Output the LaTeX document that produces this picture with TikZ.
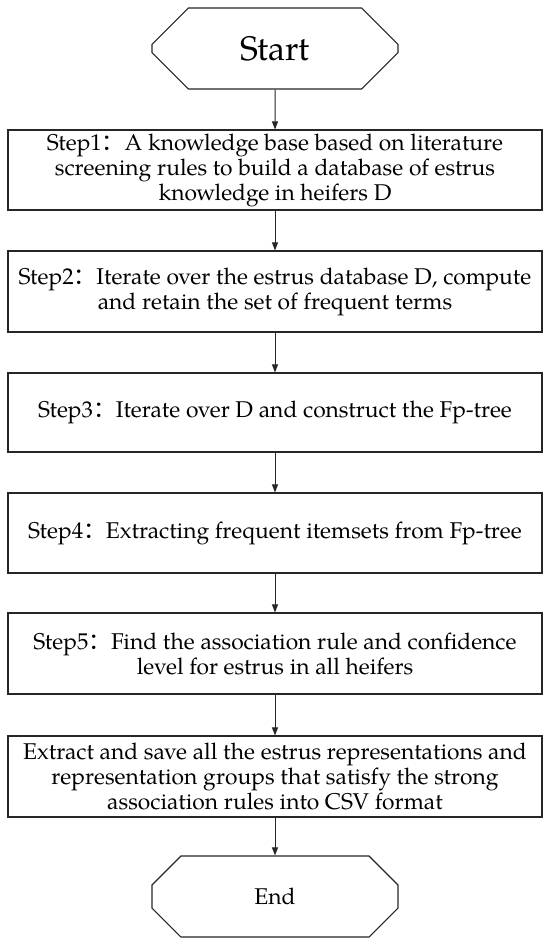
\documentclass[tikz,border=0pt]{standalone}
\usepackage{fontspec}
\setmainfont{TeX Gyre Pagella}
\newfontfamily\cjk{Noto Sans CJK SC}
\usetikzlibrary{shapes.misc,arrows.meta}
\newcommand{\cc}{{\cjk ：}}
\begin{document}
\begin{tikzpicture}[x=1pt,y=-1pt,
  stepbox/.style={draw=black!85,line width=1.1pt,rectangle,minimum width=534pt,inner sep=0pt,align=center,font=\fontsize{22.8}{25}\selectfont},
  term/.style={draw=black!85,line width=1.1pt,chamfered rectangle,chamfered rectangle xsep=24pt,chamfered rectangle ysep=24pt,minimum width=246pt,minimum height=81pt,inner sep=0pt},
  conn/.style={draw=black!85,line width=1pt,-{Triangle[length=8pt,width=6pt]}}]
\useasboundingbox (0,0) rectangle (550,946);
\node[term,font=\fontsize{34}{40}\selectfont] (start) at (275,48.5) {Start};
\node[stepbox,minimum height=80pt] (s1) at (275,170) {Step1\cc A knowledge base based on literature\\screening rules to build a database of estrus\\knowledge in heifers D};
\node[stepbox,minimum height=81pt] (s2) at (275,291.5) {Step2\cc Iterate over the estrus database D, compute\\and retain the set of frequent terms};
\node[stepbox,minimum height=79pt] (s3) at (275,412.5) {Step3\cc Iterate over D and construct the Fp-tree};
\node[stepbox,minimum height=80pt] (s4) at (275,533) {Step4\cc Extracting frequent itemsets from Fp-tree};
\node[stepbox,minimum height=81pt] (s5) at (275,653.5) {Step5\cc Find the association rule and confidence\\level for estrus in all heifers};
\node[stepbox,minimum height=81pt] (s6) at (275,776.5) {Extract and save all the estrus representations and\\representation groups that satisfy the strong\\association rules into CSV format};
\node[term,font=\fontsize{22.8}{25}\selectfont] (end) at (275,896.5) {End};
\draw[conn] (start) -- (s1);
\draw[conn] (s1) -- (s2);
\draw[conn] (s2) -- (s3);
\draw[conn] (s3) -- (s4);
\draw[conn] (s4) -- (s5);
\draw[conn] (s5) -- (s6);
\draw[conn] (s6) -- (end);
\end{tikzpicture}
\end{document}
